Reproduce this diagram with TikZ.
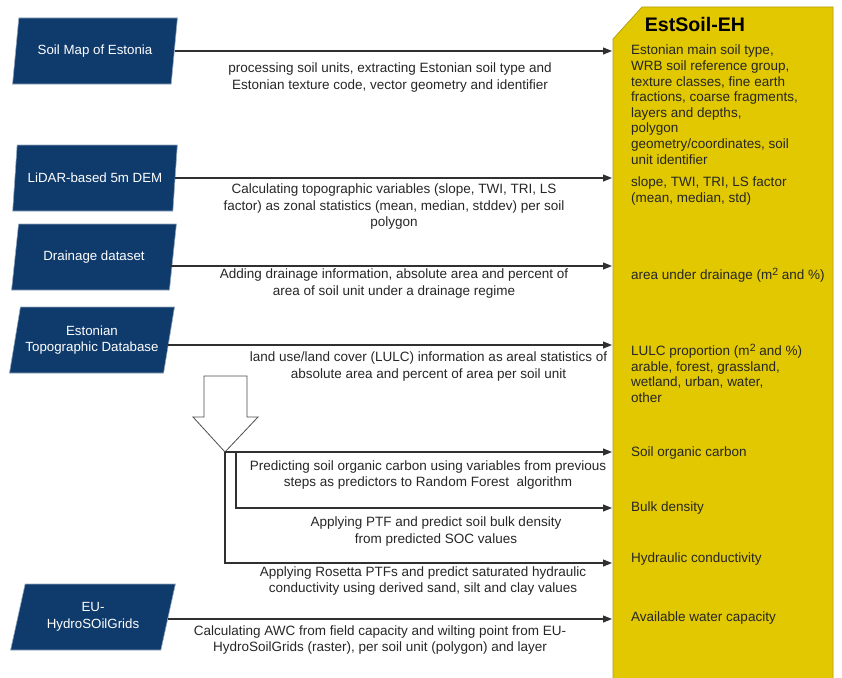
\documentclass[tikz,border=0pt]{standalone}
\usepackage{fontspec}
\setmainfont{Liberation Sans}
\usetikzlibrary{shapes.geometric,arrows.meta}
\definecolor{datablue}{HTML}{0E3A6C}
\definecolor{estyellow}{HTML}{E1C800}
\definecolor{estedge}{HTML}{B39B10}
\definecolor{linegray}{HTML}{303030}
\newcommand{\sqm}{m\raisebox{0.55ex}{\fontsize{10.5}{10.5}\selectfont 2}}

\begin{document}
\begin{tikzpicture}[
    x=1pt, y=-1pt,
    dataset/.style={
        trapezium,
        trapezium left angle=71.6,
        trapezium right angle=108.4,
        trapezium stretches=true,
        minimum width=165pt,
        minimum height=66pt,
        fill=datablue,
        draw=datablue!45!white,
        line width=0.6pt,
        text=white,
        align=center,
        inner sep=1pt,
        font=\fontsize{13.3}{16.5}\selectfont
    },
    estbox/.style={
        fill=estyellow,
        draw=estedge,
        line width=0.7pt
    },
    title/.style={
        font=\fontsize{19.6}{22}\selectfont\bfseries,
        text=black,
        inner sep=0pt
    },
    attr/.style={
        anchor=west,
        align=left,
        inner sep=0pt,
        text=black!85,
        font=\fontsize{13.5}{15.6}\selectfont
    },
    step label/.style={
        align=center,
        inner sep=0pt,
        text=black!85,
        font=\fontsize{13.5}{16.5}\selectfont
    },
    flow/.style={
        draw=linegray,
        line width=1.1pt,
        -{Triangle[length=9pt,width=7pt]}
    },
    bigarrow/.style={
        draw=black!70,
        fill=white,
        line width=0.8pt,
        line join=miter
    }
]
    \path[use as bounding box] (0,0) rectangle (842,677);
    \clip (0,0) rectangle (842,677);

    % output dataset
    \draw[estbox] (613,39) -- (642,7) -- (833,7) -- (833,690) -- (613,690) -- cycle;
    \coordinate (inlet) at (612,0);
    \node[title] (head) at (695,24) {EstSoil-EH};

    \foreach \name/\y/\txt in {
        base/104.7/{Estonian main soil type,\\WRB soil reference group,\\texture classes, fine earth\\fractions, coarse fragments,\\layers and depths,\\polygon\\geometry/coordinates, soil\\unit identifier},
        terrain/191/{slope, TWI, TRI, LS factor\\(mean, median, std)},
        drain/275/{area under drainage (\sqm{} and \%)},
        lulc/373.5/{LULC proportion (\sqm{} and \%)\\arable, forest, grassland,\\wetland, urban, water,\\other},
        soc/453/{Soil organic carbon},
        bd/508/{Bulk density},
        hc/559/{Hydraulic conductivity},
        awc/618/{Available water capacity}%
    } {
        \node[attr] (out-\name) at (631,\y) {\txt};
    }

    % input datasets
    \foreach \name/\x/\y/\txt in {
        soilmap/95/51/{Soil Map of Estonia},
        lidar/95/178/{LiDAR-based 5m DEM},
        drainage/94/257/{Drainage dataset},
        topodb/92/340/{Estonian\\Topographic Database},
        hydro/93/617/{EU-\\HydroSOilGrids}%
    } {
        \node[dataset] (\name) at (\x,\y) {\txt};
    }

    \foreach \src/\dy in {soilmap/0, lidar/0, drainage/9, topodb/5, hydro/2} {
        \coordinate (\src-out) at ([yshift={-\dy*1pt}, xshift={-\dy/3*1pt}]\src.east);
        \draw[flow] (\src-out) -- (\src-out -| inlet);
    }

    % modelling steps
    \draw[bigarrow] (204,376) -- (247,376) -- (247,417) -- (258,417)
        -- (225,452) -- (193,417) -- (204,417) -- cycle;
    \coordinate (down) at (225,452);
    \coordinate (split) at (236,452);
    \coordinate (bd-in) at (612,508);
    \coordinate (hc-in) at (612,563);
    \draw[flow] (down) -- (down -| inlet);
    \draw[flow] (split) |- (bd-in);
    \draw[flow] (down) |- (hc-in);

    % step descriptions
    \foreach \name/\x/\y/\txt in {
        soilmap/390/77.5/{processing soil units, extracting Estonian soil type and\\Estonian texture code, vector geometry and identifier},
        lidar/394/207/{Calculating topographic variables (slope, TWI, TRI, LS\\factor) as zonal statistics (mean, median, stddev) per soil\\polygon},
        drainage/394/283.5/{Adding drainage information, absolute area and percent of\\area of soil unit under a drainage regime},
        topodb/428.5/366.5/{land use/land cover (LULC) information as areal statistics of\\absolute area and percent of area per soil unit},
        soc/428/475/{Predicting soil organic carbon using variables from previous\\steps as predictors to Random Forest\ \ algorithm},
        bd/436/531.5/{Applying PTF and predict soil bulk density\\from predicted SOC values},
        hc/423/581/{Applying Rosetta PTFs and predict saturated hydraulic\\conductivity using derived sand, silt and clay values},
        hydro/380/640/{Calculating AWC from field capacity and wilting point from EU-\\HydroSoilGrids (raster), per soil unit (polygon) and layer}%
    } {
        \node[step label] (lab-\name) at (\x,\y) {\txt};
    }

\end{tikzpicture}
\end{document}
